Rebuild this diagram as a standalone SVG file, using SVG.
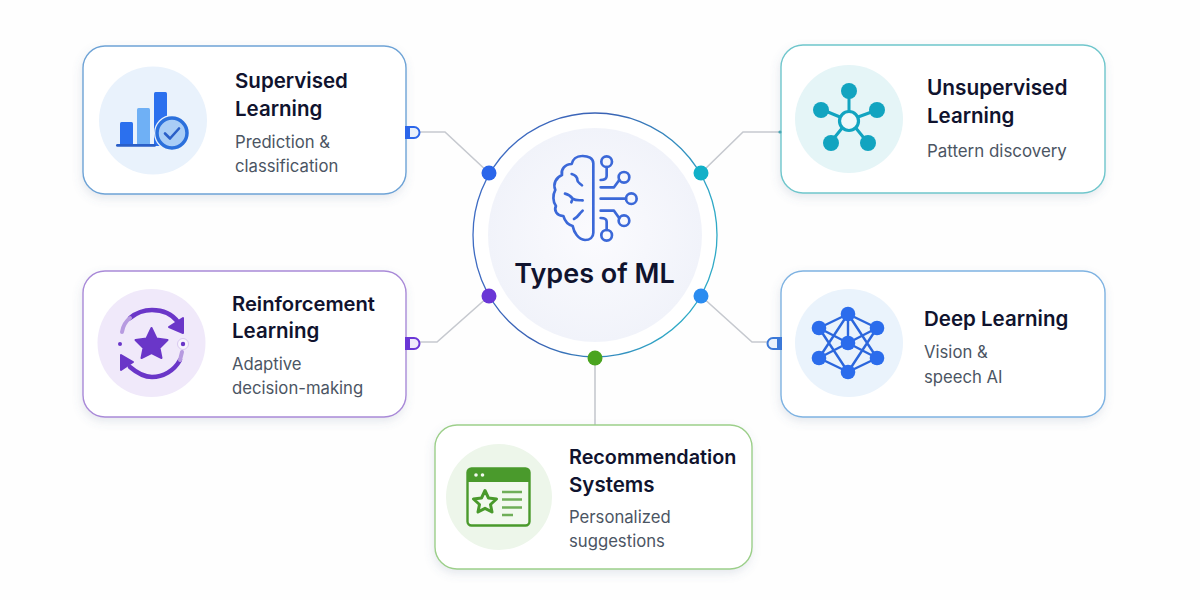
<svg xmlns="http://www.w3.org/2000/svg" width="1200" height="600" viewBox="0 0 1200 600">
<style>
.card{fill:#fff;stroke-width:1.4;filter:url(#sh)}
.t{font-family:Inter,"Noto Sans","Liberation Sans",sans-serif;font-weight:600;font-size:20.5px;fill:#10132e}
.s{font-family:Inter,"Noto Sans","Liberation Sans",sans-serif;font-weight:400;font-size:16.7px;fill:#4b5563}
.c{fill:none;stroke:#c6c9cf;stroke-width:1.6}
.nf{fill:none;stroke-linecap:round;stroke-linejoin:round}
</style>
<defs>
<filter id="sh" x="-10%" y="-15%" width="120%" height="135%"><feDropShadow dx="-1" dy="4" stdDeviation="5" flood-color="#5a6a90" flood-opacity="0.15"/></filter>
<linearGradient id="ring" x1="0" y1="0" x2="1" y2="0.3"><stop offset="0" stop-color="#3f6fc8"/><stop offset="0.5" stop-color="#3a62b4"/><stop offset="1" stop-color="#2fa9c6"/></linearGradient>
<radialGradient id="disc"><stop offset="0" stop-color="#fbfbfe"/><stop offset="1" stop-color="#f1f3fa"/></radialGradient>
</defs>
<rect width="1200" height="600" fill="#fefefe"/>
<g id="connectors">
<path class="c" d="M420 132H445L489 173"/>
<path class="c" d="M780 132H743L701 173"/>
<path class="c" d="M420 342H437L489 296"/>
<path class="c" d="M768 342H752L701 296"/>
<path class="c" d="M595 358V425"/>
</g>
<g id="node-center">
<circle cx="595" cy="235" r="122" fill="#fff" stroke="url(#ring)" stroke-width="1.300"/>
<circle cx="595" cy="235" r="107" fill="url(#disc)"/>
<g transform="translate(470 100) scale(.3333)" class="nf" stroke="#3b68d8" stroke-width="8">
<path d="M370 190C370 175 355 167 335 168C320 168 308 178 305 192C285 192 272 208 276 225C258 232 248 252 256 270C248 285 248 305 258 318C250 332 262 348 280 348C285 365 295 375 308 378C312 398 325 418 345 420C360 420 370 412 370 398Z"/>
<path d="M305 222C315 225 322 232 322 240C322 248 330 250 336 256"/>
<path d="M285 281C295 283 302 288 308 296C318 303 328 300 338 301M308 296L304 307"/>
<path d="M312 357C322 353 326 345 330 340L338 332"/>
<circle cx="410" cy="185" r="16"/>
<path d="M410 201V228C410 236 405 240 392 240"/>
<circle cx="462" cy="232" r="16"/>
<path d="M448 240L432 262H392"/>
<circle cx="484" cy="296" r="16"/>
<path d="M392 296H468"/>
<circle cx="462" cy="362" r="16"/>
<path d="M448 355L432 332H392"/>
<circle cx="410" cy="406" r="16"/>
<path d="M410 390V365C410 358 405 354 392 354"/>
</g>
<text x="594.500" y="283" text-anchor="middle" style="font-family:Inter,'Noto Sans','Liberation Sans',sans-serif;font-weight:600;font-size:27px;fill:#10132e">Types of ML</text>
</g>
<g id="dots">
<circle cx="489" cy="173" r="7.500" fill="#2b66ea"/>
<circle cx="701" cy="173" r="7.500" fill="#12b0c8"/>
<circle cx="489" cy="296" r="7.500" fill="#6a36d6"/>
<circle cx="701" cy="296" r="7.500" fill="#2b8cf0"/>
<circle cx="595" cy="358" r="7.500" fill="#4aa41f"/>
</g>
<g id="node-supervised">
<rect class="card" x="83" y="46" width="323" height="148" rx="22" stroke="#6ea3d6"/>
<path d="M406 127h8a5.500 5.500 0 0 1 0 11h-8z" fill="#e9f0fb" stroke="#2b66ea" stroke-width="2"/>
<rect x="406" y="127" width="4" height="11" fill="#2b66ea"/>
<circle cx="153" cy="120.500" r="54" fill="#e9f2fc"/>
<rect x="120" y="122" width="13" height="24" rx="1.500" fill="#2b70ee"/>
<rect x="137" y="108" width="13" height="38" rx="1.500" fill="#6fb0f5"/>
<rect x="154" y="92" width="13" height="54" rx="1.500" fill="#2b70ee"/>
<rect x="116" y="144" width="40" height="2.800" rx="1.400" fill="#2a5fc8"/>
<circle cx="172" cy="133" r="18" fill="#e9f2fc"/>
<circle cx="172" cy="133" r="15" fill="#a9cdf6" stroke="#2b70dc" stroke-width="3.500"/>
<path class="nf" d="M165 133.500l5 5 9-10" stroke="#2a5fc8" stroke-width="2.600"/>
<text class="t" x="235" y="88">Supervised</text>
<text class="t" x="235" y="116">Learning</text>
<text class="s" x="235" y="148">Prediction &amp;</text>
<text class="s" x="235" y="172">classification</text>
</g>
<g id="node-unsupervised">
<rect class="card" x="781" y="45" width="324" height="148" rx="22" stroke="#6fc6cc"/>
<circle cx="780" cy="132" r="1.600" fill="#4aa7b5"/>
<circle cx="849" cy="119" r="54" fill="#e5f5f7"/>
<g stroke="#12a4c0" stroke-width="3">
<path d="M849 111V92M840 117L823 110M858 117L877 110M843 127L830 143M855 127L868 143"/>
<circle cx="849" cy="121" r="9.500" fill="#eef9fa" stroke-width="3.200"/>
</g>
<g fill="#12a4c0">
<circle cx="849" cy="91" r="8"/><circle cx="821" cy="110" r="8"/><circle cx="877" cy="110" r="8"/><circle cx="831" cy="143" r="8"/><circle cx="868" cy="143" r="8"/>
</g>
<text class="t" x="927" y="95" style="font-size:20.8px">Unsupervised</text>
<text class="t" x="927" y="123">Learning</text>
<text class="s" x="927" y="157" style="font-size:16.9px">Pattern discovery</text>
</g>
<g id="node-reinforcement">
<rect class="card" x="83" y="271" width="323" height="146" rx="22" stroke="#a98ad8"/>
<path d="M406 338h8a5.500 5.500 0 0 1 0 11h-8z" fill="#efe9fb" stroke="#6a36d6" stroke-width="2"/>
<rect x="406" y="338" width="4" height="11" fill="#6a36d6"/>
<circle cx="151.500" cy="343" r="54" fill="#f0e9fa"/>
<g class="nf" stroke="#6a36c8" stroke-width="4.500">
<path d="M130 318C136 313 143 310 152 310C163 310 172 314 178 322"/>
<path d="M180 360C174 371 163 377 152 377C144 377 137 373 130 367"/>
</g>
<g class="nf" stroke="#b79be0" stroke-width="4">
<path d="M122 332C123 326 126 321 130 318"/>
<path d="M182 352L180 360"/>
</g>
<path d="M183 333L169 327L183 318Z" fill="#6a36c8" stroke="#6a36c8" stroke-width="2" stroke-linejoin="round"/>
<path d="M121 355L133 362L121 370Z" fill="#6a36c8" stroke="#6a36c8" stroke-width="2" stroke-linejoin="round"/>
<path d="M151.500 328L156.500 338.500 167.500 340 159.500 348 161.500 358 151.500 353 141.500 358 143.500 348 135.500 340 146.500 338.500Z" fill="#6a36c8" stroke="#6a36c8" stroke-width="2" stroke-linejoin="round"/>
<circle cx="120" cy="344" r="2" fill="#6a36c8"/>
<circle cx="183" cy="344" r="5.500" fill="#f7f3fd" stroke="#d9c9f0" stroke-width="1"/>
<circle cx="183" cy="344" r="2.200" fill="#6a36c8"/>
<text class="t" x="232" y="311" style="font-size:20.2px">Reinforcement</text>
<text class="t" x="232" y="338">Learning</text>
<text class="s" x="232" y="370">Adaptive</text>
<text class="s" x="232" y="394">decision-making</text>
</g>
<g id="node-deep">
<rect class="card" x="781" y="271" width="324" height="146" rx="22" stroke="#7fb3e2"/>
<path d="M781 338h-8a5.500 5.500 0 0 0 0 11h8z" fill="#eaf2fc" stroke="#3b78d8" stroke-width="2"/>
<rect x="777" y="338" width="4" height="11" fill="#3b78d8"/>
<circle cx="849" cy="343" r="54" fill="#eaf3fc"/>
<path d="M848 314L819 328M848 314L877 328M848 314L848 343M848 314L819 358M848 314L877 358M848 372L819 358M848 372L877 358M848 372L819 328M848 372L877 328M848 343L819 328M848 343L877 328M848 343L819 358M848 343L877 358" stroke="#2b66dc" stroke-width="2.400" fill="none"/>
<g fill="#2b6cec">
<circle cx="848" cy="314" r="7.300"/><circle cx="819" cy="328" r="7.300"/><circle cx="877" cy="328" r="7.300"/><circle cx="848" cy="343" r="7.300"/><circle cx="819" cy="358" r="7.300"/><circle cx="877" cy="358" r="7.300"/><circle cx="848" cy="372" r="7.300"/>
</g>
<text class="t" x="924" y="326">Deep Learning</text>
<text class="s" x="924" y="358">Vision &amp;</text>
<text class="s" x="924" y="383">speech AI</text>
</g>
<g id="node-recommendation">
<rect class="card" x="435" y="425" width="317" height="144" rx="22" stroke="#9ccf8a"/>
<circle cx="499" cy="497" r="53" fill="#edf6ea"/>
<rect x="467.500" y="468.500" width="62" height="57" rx="4" fill="#f2f9ef" stroke="#4a9a2c" stroke-width="2.400"/>
<path d="M467.500 482V472.500a4 4 0 0 1 4-4h54a4 4 0 0 1 4 4V482Z" fill="#4a9a2c"/>
<circle cx="476" cy="475" r="1.800" fill="#f4f9f1"/><circle cx="482.500" cy="475" r="1.800" fill="#f4f9f1"/>
<path class="nf" d="M485 490.500L488.500 498 496.500 499 490.500 504.500 492 512 485 508.300 478 512 479.500 504.500 473.500 499 481.500 498Z" stroke="#4a9a2c" stroke-width="3"/>
<path d="M502 492H522M502 499.500H522M502 507.500H522M502 515H513" stroke="#6fae58" stroke-width="2.400" fill="none"/>
<text class="t" x="569" y="464" style="font-size:19.8px">Recommendation</text>
<text class="t" x="569" y="492">Systems</text>
<text class="s" x="569" y="523">Personalized</text>
<text class="s" x="569" y="547">suggestions</text>
</g>
</svg>
